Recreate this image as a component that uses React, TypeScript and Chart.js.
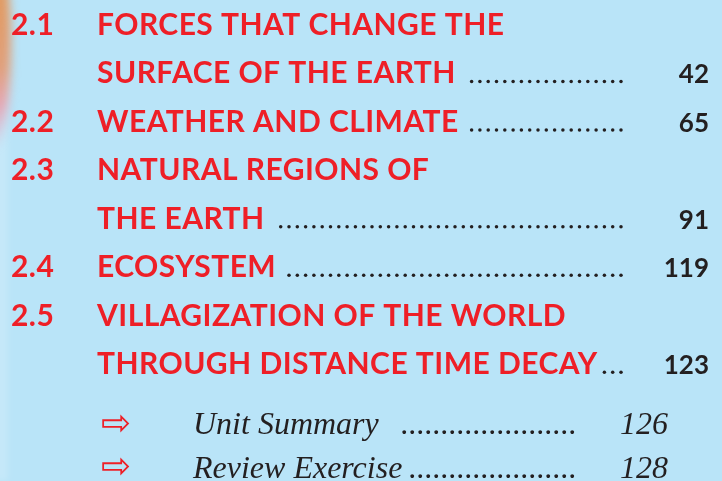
import React, { useEffect, useRef } from "react";
import { Chart, registerables } from "chart.js";

Chart.register(...registerables);

// ---- data ----
const sectionNumbers = ["2.1", "", "2.2", "2.3", "", "2.4", "2.5", ""];
const sectionLines = [
  "FORCES THAT CHANGE THE",
  "SURFACE OF THE EARTH",
  "WEATHER AND CLIMATE",
  "NATURAL REGIONS OF",
  "THE EARTH",
  "ECOSYSTEM",
  "VILLAGIZATION OF THE WORLD",
  "THROUGH DISTANCE TIME DECAY",
];
const sectionPages = ["", "42", "65", "", "91", "119", "", "123"];
const sectionRows = [0, 1, 2, 3, 4, 5, 6, 7];

const summaryLines = ["Unit Summary", "Review Exercise"];
const summaryPages = ["126", "128"];
const summaryRows = [8.25, 9.15];

// ---- styles ----
const RED = "#ee1f27";
const INK = "#231f20";
const BG = "#b9e4f8";
const leaderGap = [12, 12, 12, 12, 12, 12, 12, 4];
const summaryGap = [16, 6];

const tocPlugin = {
  id: "toc",
  beforeDraw(chart: any) {
    const { ctx, width, height } = chart;
    ctx.save();
    ctx.fillStyle = BG;
    ctx.fillRect(0, 0, width, height);
    ctx.filter = "blur(3px)";
    ctx.fillStyle = "rgba(255,255,255,0.18)";
    ctx.fillRect(-6, 0, 14, height);
    ctx.filter = "blur(5px)";
    const g = ctx.createLinearGradient(0, 0, 0, 150);
    g.addColorStop(0, "#e19a62");
    g.addColorStop(0.45, "#e0a07c");
    g.addColorStop(0.7, "#e4a7b4");
    g.addColorStop(1, "rgba(228,167,200,0)");
    ctx.fillStyle = g;
    ctx.beginPath();
    ctx.ellipse(-7, 45, 18, 105, 0, 0, Math.PI * 2);
    ctx.fill();
    ctx.restore();
  },
  afterDatasetsDraw(chart: any) {
    const { ctx } = chart;
    const xs = chart.scales.x;
    const ys = chart.scales.y;
    ctx.save();
    ctx.textBaseline = "alphabetic";

    const numX = xs.getPixelForValue(11);
    const titleX = xs.getPixelForValue(97);
    const leaderEnd = xs.getPixelForValue(621);
    const pageRight = xs.getPixelForValue(709);

    sectionRows.forEach((row, i) => {
      const y = ys.getPixelForValue(row);
      ctx.fillStyle = RED;
      ctx.font = "700 30px Lato";
      ctx.letterSpacing = "0.45px";
      ctx.textAlign = "left";
      if (sectionNumbers[i]) ctx.fillText(sectionNumbers[i], numX, y);
      ctx.fillText(sectionLines[i], titleX, y);
      if (sectionPages[i]) {
        const tEnd = titleX + ctx.measureText(sectionLines[i]).width;
        ctx.fillStyle = INK;
        let dx = leaderEnd;
        while (dx >= tEnd + leaderGap[i]) {
          ctx.beginPath();
          ctx.arc(dx, y - 1.8, 1.75, 0, Math.PI * 2);
          ctx.fill();
          dx -= 8.3;
        }
        ctx.font = "700 26px Lato";
        ctx.letterSpacing = "0px";
        ctx.textAlign = "right";
        ctx.fillText(sectionPages[i], pageRight, y);
      }
    });

    ctx.letterSpacing = "0px";
    const arrowX = xs.getPixelForValue(101);
    const sumX = xs.getPixelForValue(193);
    const sumLeaderEnd = xs.getPixelForValue(577);
    const sumPageRight = xs.getPixelForValue(668);
    summaryRows.forEach((row, i) => {
      const y = ys.getPixelForValue(row);
      ctx.textAlign = "left";
      ctx.fillStyle = RED;
      ctx.font = "36px 'DejaVu Sans'";
      ctx.textBaseline = "middle";
      ctx.fillText("\u21e8", arrowX, y - 9);
      ctx.textBaseline = "alphabetic";
      ctx.fillStyle = INK;
      ctx.font = "italic 32px 'Liberation Serif'";
      ctx.fillText(summaryLines[i], sumX, y);
      const tEnd = sumX + ctx.measureText(summaryLines[i]).width;
      const dotW = ctx.measureText(".").width;
      const n = Math.floor((sumLeaderEnd - tEnd - summaryGap[i]) / dotW);
      ctx.textAlign = "right";
      ctx.fillText(".".repeat(Math.max(n, 0)), sumLeaderEnd, y);
      ctx.fillText(summaryPages[i], sumPageRight, y);
    });
    ctx.restore();
  },
};

export default function App() {
  const ref = useRef<HTMLCanvasElement>(null);
  useEffect(() => {
    const canvas = ref.current!;
    const chart = new Chart(canvas, {
      type: "scatter",
      data: {
        datasets: [
          {
            data: sectionRows.map((r) => ({ x: 0, y: r })),
            pointRadius: 0,
            showLine: false,
          },
        ],
      },
      options: {
        animation: false,
        responsive: false,
        devicePixelRatio: 1,
        events: [],
        layout: { padding: 0 },
        plugins: { legend: { display: false }, tooltip: { enabled: false } },
        scales: {
          x: { type: "linear", min: 0, max: 722, display: false },
          y: { type: "linear", min: -0.72, max: 9.21, reverse: true, display: false },
        },
      },
      plugins: [tocPlugin],
    } as any);
    return () => chart.destroy();
  }, []);
  return (
    <div style={{ position: "absolute", left: 0, top: 0, width: 722, height: 481 }}>
      <canvas ref={ref} width={722} height={481} style={{ display: "block" }} />
    </div>
  );
}
